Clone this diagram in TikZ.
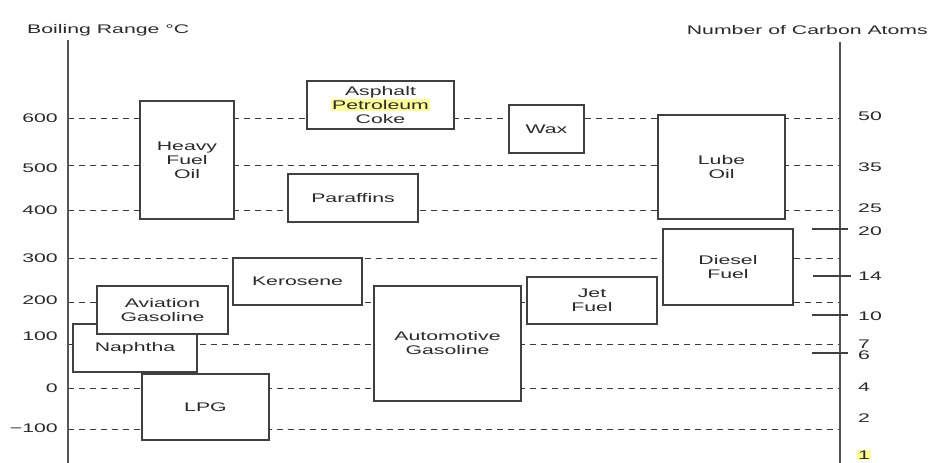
\documentclass[tikz,border=0pt]{standalone}
\usepackage{fontspec}
\setmainfont[FakeStretch=1.7]{Liberation Sans}
\definecolor{textgray}{HTML}{2A2A2A}
\definecolor{axisgray}{HTML}{555555}
\definecolor{boxgray}{HTML}{404040}
\definecolor{linegray}{HTML}{3A3A3A}
\definecolor{hl}{HTML}{FFFF99}
\newcommand{\hlbox}[1]{{\setlength{\fboxsep}{1pt}\colorbox{hl}{#1}}}
\begin{document}
\begin{tikzpicture}[x=1pt,y=-1pt,
  axisline/.style={draw=axisgray, line width=2pt},
  gridline/.style={draw=linegray, dash pattern=on 6pt off 5pt, line width=0.9pt},
  tickline/.style={draw=boxgray, line width=1.1pt},
  fbox/.style={draw=boxgray, fill=white, line width=1.3pt, align=center, inner sep=0pt,
    font=\fontsize{12.5}{14}\selectfont, text=textgray},
  lbl/.style={text=textgray, inner sep=0pt, font=\fontsize{12.5}{14}\selectfont}]
\useasboundingbox (0,0) rectangle (929,463);

% titles
\node[lbl, anchor=west] (ttl) at (27,30) {Boiling Range °C};
\node[lbl, anchor=east] (ttr) at (928,30) {Number of Carbon Atoms};

% axes
\coordinate (LA1) at (68,40);
\coordinate (LA2) at (68,463);
\coordinate (RA1) at (840,42);
\coordinate (RA2) at (840,463);

% grid line end points
\foreach \n/\y in {a/118,b/165,c/210,d/258,e/302,f/344,g/388,h/429}{
  \coordinate (L\n) at (68,\y);
  \coordinate (R\n) at (840,\y);
}
\foreach \n in {a,b,c,d,e,f,g,h}{
  \draw[gridline] (L\n) -- (R\n);
}

\draw[axisline] (LA1) -- (LA2);
\draw[axisline] (RA1) -- (RA2);

% right ticks
\foreach \n/\y/\xa/\xb in {t20/229/812/848,t14/276/813/851,t10/315/812/848,t6/353/812/848}{
  \coordinate (\n a) at (\xa,\y);
  \coordinate (\n b) at (\xb,\y);
  \draw[tickline] (\n a) -- (\n b);
}

% left labels
\foreach \t/\y in {600/118,500/168,400/210,300/258,200/300,100/336,0/388,−100/428}{
  \node[lbl, anchor=east] at (58,\y) {\t};
}

% right labels
\foreach \t/\y in {50/116,35/167,25/208,20/231,14/276,10/316,7/344,6/355,4/387,2/418}{
  \node[lbl, anchor=west] at (858,\y) {\t};
}
\node[lbl, anchor=west] (one) at (857,455) {\hlbox{1}};

% boxes
\node[fbox, minimum width=94pt, minimum height=118pt] (hfo) at (187,160) {Heavy\\Fuel\\Oil};
\node[fbox, minimum width=147pt, minimum height=48pt] (asp) at (380.5,105) {Asphalt\\\hlbox{Petroleum}\\Coke};
\node[fbox, minimum width=75pt, minimum height=48pt] (wax) at (546.5,129) {Wax};
\node[fbox, minimum width=130pt, minimum height=48pt] (par) at (353,198) {Paraffins};
\node[fbox, minimum width=127pt, minimum height=104pt] (lube) at (721.5,167) {Lube\\Oil};
\node[fbox, minimum width=130pt, minimum height=76pt] (dies) at (728,267) {Diesel\\Fuel};
\node[fbox, minimum width=130pt, minimum height=47pt] (jet) at (592,300.5) {Jet\\Fuel};
\node[fbox, minimum width=129pt, minimum height=47pt] (ker) at (297.5,281.5) {Kerosene};
\node[fbox, minimum width=147pt, minimum height=115pt] (auto) at (447.5,343.5) {Automotive\\Gasoline};
\node[fbox, minimum width=124pt, minimum height=48pt] (nap) at (135,348) {Naphtha};
\node[fbox, minimum width=131pt, minimum height=48pt] (avi) at (162.5,310) {Aviation\\Gasoline};
\node[fbox, minimum width=127pt, minimum height=66pt] (lpg) at (205.5,407) {LPG};
\end{tikzpicture}
\end{document}
